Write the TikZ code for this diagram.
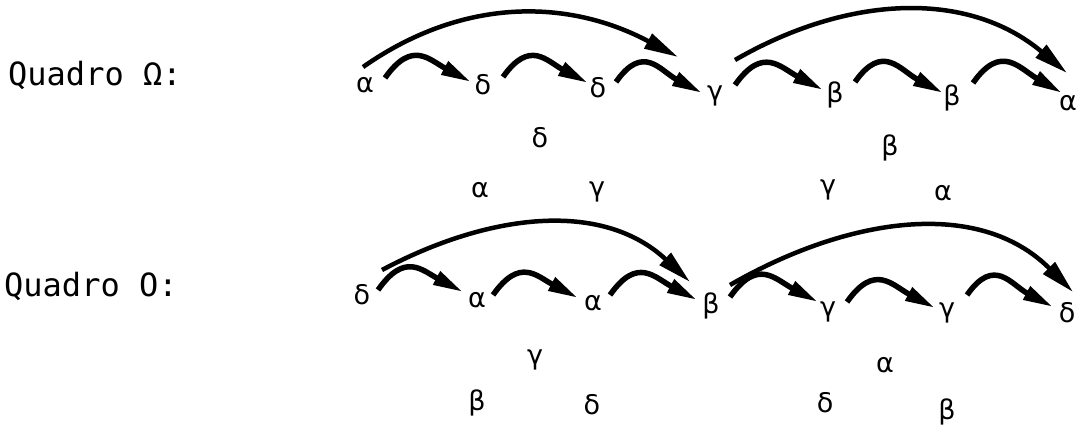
\documentclass[tikz,border=0pt]{standalone}
\usepackage{fontspec}
\newfontfamily\monof{DejaVu Sans Mono}
\newfontfamily\grk{DejaVu Sans}
\usetikzlibrary{arrows.meta}
\begin{document}
\begin{tikzpicture}[x=1pt,y=1pt,
  g/.style={font=\grk\fontsize{27}{27}\selectfont, inner sep=0pt},
  lab/.style={font=\monof\fontsize{32}{32}\selectfont, anchor=base west, inner sep=0pt},
  sm/.style={line width=5.5pt, -{Triangle[length=30pt,width=14pt]}, looseness=1.4},
  big/.style={line width=4.5pt, -{Triangle[length=34pt,width=16pt]}}]
\useasboundingbox (0,0) rectangle (1089,431);
% labels
\node[lab] (q1) at (8,345) {Quadro Ω:};
\node[lab] (q2) at (4,134) {Quadro O:};
% row 1
\node[g] (r1a) at (365,346) {α};
\node[g] (r1b) at (483,346) {δ};
\node[g] (r1c) at (598,343) {δ};
\node[g] (r1d) at (715,335) {γ};
\node[g] (r1e) at (835,336) {β};
\node[g] (r1f) at (952,333) {β};
\node[g] (r1g) at (1068,328) {α};
\node[g] (s1a) at (540,293) {δ};
\node[g] (s1b) at (480,241) {α};
\node[g] (s1c) at (597,239) {γ};
\node[g] (s2a) at (890,283) {β};
\node[g] (s2b) at (828,241) {γ};
\node[g] (s2c) at (943,238) {α};
% row 2
\node[g] (r2a) at (362,136) {δ};
\node[g] (r2b) at (477,131) {α};
\node[g] (r2c) at (593,128) {α};
\node[g] (r2d) at (711,125) {β};
\node[g] (r2e) at (828,119) {γ};
\node[g] (r2f) at (947,118) {γ};
\node[g] (r2g) at (1067,118) {δ};
\node[g] (u1a) at (535,71) {γ};
\node[g] (u1b) at (477,28) {β};
\node[g] (u1c) at (592,26) {δ};
\node[g] (u2a) at (885,66) {α};
\node[g] (u2b) at (825,28) {δ};
\node[g] (u2c) at (947,19) {β};
% row 1 small arrows
\draw[sm] ([shift={(20,7)}]r1a.center) to[out=55,in=152] ([shift={(-12,3)}]r1b.center);
\draw[sm] ([shift={(20,8)}]r1b.center) to[out=55,in=152] ([shift={(-10,5)}]r1c.center);
\draw[sm] ([shift={(18,6)}]r1c.center) to[out=55,in=152] ([shift={(-13,3)}]r1d.center);
\draw[sm] ([shift={(20,11)}]r1d.center) to[out=55,in=152] ([shift={(-12,5)}]r1e.center);
\draw[sm] ([shift={(20,13)}]r1e.center) to[out=55,in=152] ([shift={(-9,5)}]r1f.center);
\draw[sm] ([shift={(21,15)}]r1f.center) to[out=55,in=150] ([shift={(-6,10)}]r1g.center);
% row 1 big arrows
\draw[big] ([shift={(-2,18)}]r1a.center) to[out=35,in=152] ([shift={(-37,39)}]r1d.center);
\draw[big] ([shift={(20,36)}]r1d.center) to[out=30,in=140] ([shift={(-1,30)}]r1g.center);
% row 2 small arrows
\draw[sm] ([shift={(16,5)}]r2a.center) to[out=55,in=152] ([shift={(-14,8)}]r2b.center);
\draw[sm] ([shift={(16,5)}]r2b.center) to[out=55,in=152] ([shift={(-15,5)}]r2c.center);
\draw[sm] ([shift={(17,8)}]r2c.center) to[out=55,in=152] ([shift={(-14,6)}]r2d.center);
\draw[sm] ([shift={(19,9)}]r2d.center) to[out=55,in=152] ([shift={(-10,10)}]r2e.center);
\draw[sm] ([shift={(19,10)}]r2e.center) to[out=55,in=152] ([shift={(-12,5)}]r2f.center);
\draw[sm] ([shift={(20,18)}]r2f.center) to[out=55,in=152] ([shift={(-14,6)}]r2g.center);
% row 2 big arrows
\draw[big] ([shift={(20,25)}]r2a.center) to[out=28,in=137] ([shift={(-21,24)}]r2d.center);
\draw[big] ([shift={(19,21)}]r2d.center) to[out=30,in=135] ([shift={(6,21)}]r2g.center);
\end{tikzpicture}
\end{document}
